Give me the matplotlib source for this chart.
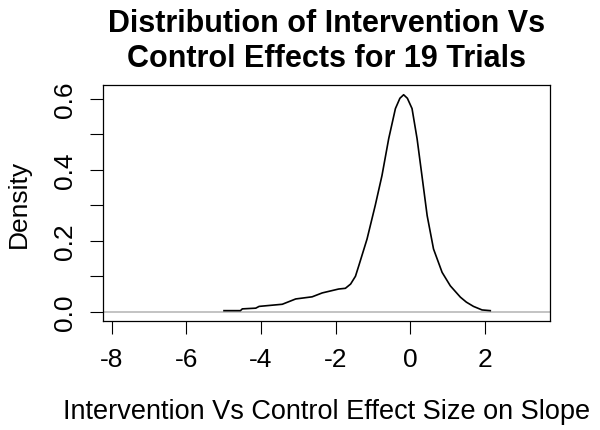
import numpy as np
import matplotlib
matplotlib.use("Agg")
import matplotlib.pyplot as plt

plt.rcParams['font.family'] = ['Liberation Sans', 'DejaVu Sans']

# density curve
effect = [-4.99, -4.55, -4.50, -4.14, -4.05, -3.43, -3.07, -2.63, -2.36, -1.92,
          -1.74, -1.60, -1.47, -1.38, -1.16, -0.94, -0.76, -0.58, -0.40, -0.28,
          -0.18, -0.08, 0.045, 0.18, 0.31, 0.45, 0.62, 0.85, 1.07, 1.34,
          1.50, 1.69, 1.92, 2.14]
density = [0.003, 0.003, 0.008, 0.010, 0.015, 0.021, 0.036, 0.042, 0.053, 0.064,
           0.066, 0.078, 0.100, 0.130, 0.205, 0.300, 0.384, 0.488, 0.573, 0.602,
           0.612, 0.602, 0.573, 0.488, 0.384, 0.271, 0.177, 0.111, 0.073, 0.041,
           0.027, 0.015, 0.005, 0.003]

x_ticks = [-8, -6, -4, -2, 0, 2]
y_ticks = [0.0, 0.1, 0.2, 0.3, 0.4, 0.5, 0.6]
y_labels = ['0.0', '', '0.2', '', '0.4', '', '0.6']

fig = plt.figure(figsize=(6, 4.31), dpi=100)
ax = fig.add_axes([0.1717, 0.2529, 0.745, 0.5476])

ax.axhline(0, color='#BEBEBE', lw=1.3, zorder=1)
ax.plot(effect, density, color='black', lw=1.2, zorder=2)

ax.set_xlim(-8.23, 3.74)
ax.set_ylim(-0.0262, 0.6395)
ax.set_xticks(x_ticks)
ax.set_xticklabels([str(t) for t in x_ticks])
ax.set_yticks(y_ticks)
ax.set_yticklabels(y_labels, rotation=90, va='center')
ax.tick_params(axis='both', direction='out', length=9.4, width=0.8,
               labelsize=19, pad=9)
for s in ax.spines.values():
    s.set_linewidth(0.9)

ax.set_xlabel('Intervention Vs Control Effect Size on Slope', fontsize=19.5, labelpad=19.5)
ax.set_ylabel('Density', fontsize=19, labelpad=16)
fig.text(0.5445, 0.978, 'Distribution of Intervention Vs\nControl Effects for 19 Trials',
         ha='center', va='top', fontsize=22, fontweight='bold', linespacing=1.2)

fig.savefig('out.png', dpi=100)
